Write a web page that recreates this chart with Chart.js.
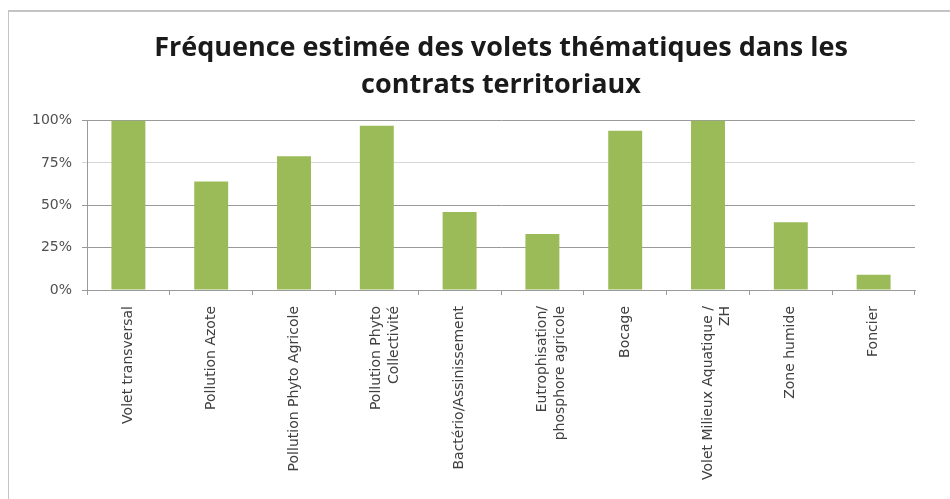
<!DOCTYPE html>
<html>
<head>
<meta charset="utf-8">
<script src="https://cdn.jsdelivr.net/npm/chart.js@4.4.1/dist/chart.umd.min.js"></script>
<style>
  html, body { margin: 0; padding: 0; background: #ffffff; }
  #wrap { position: relative; width: 950px; height: 499px; overflow: hidden; }
  #frame { position: absolute; left: 8px; top: 10px; width: 960px; height: 520px;
           border-top: 2px solid #c4c4c4; border-left: 1px solid #c4c4c4; box-sizing: border-box; }
  canvas { position: absolute; left: 0; top: 0; }
</style>
</head>
<body>
<div id="wrap">
  <div id="frame"></div>
  <canvas id="c" width="950" height="499"></canvas>
</div>
<script>
const titleLines = ["Fréquence estimée des volets thématiques dans les", "contrats territoriaux"];
const categories = [
  "Volet transversal",
  "Pollution Azote",
  "Pollution Phyto Agricole",
  ["Pollution Phyto", "Collectivité"],
  "Bactério/Assinissement",
  ["Eutrophisation/", "phosphore agricole"],
  "Bocage",
  ["Volet Milieux Aquatique /", "ZH"],
  "Zone humide",
  "Foncier"
];
const frequencies = [100, 64, 79, 97, 46, 33, 94, 100, 40, 9];
const yTicks = [0, 25, 50, 75, 100];

new Chart(document.getElementById('c'), {
  type: 'bar',
  data: {
    labels: categories,
    datasets: [{
      data: frequencies,
      backgroundColor: '#9bbb59',
      borderWidth: 0,
      categoryPercentage: 1.0,
      barPercentage: 0.41
    }]
  },
  options: {
    responsive: false,
    animation: false,
    layout: { padding: { left: 0, right: 35, top: 0, bottom: 0 } },
    plugins: {
      legend: { display: false },
      tooltip: { enabled: false },
      title: {
        display: true,
        fullSize: false,
        text: titleLines,
        color: '#1a1a1a',
        font: { family: 'Open Sans', size: 27, weight: 'bold', lineHeight: 1.4 },
        padding: { top: 29, bottom: 16 }
      }
    },
    scales: {
      x: {
        grid: { display: true, offset: true, drawOnChartArea: false, drawTicks: true, tickLength: 5, color: '#9a9a9a' },
        border: { display: true, color: '#9a9a9a', width: 1 },
        ticks: {
          autoSkip: false, minRotation: 90, maxRotation: 90, padding: 11,
          color: '#404040',
          font: { family: 'DejaVu Sans', size: 14, lineHeight: 1.25 }
        },
        afterFit: (s) => { s.height = 209; }
      },
      y: {
        min: 0, max: 100,
        afterBuildTicks: (s) => { s.ticks = yTicks.map(v => ({ value: v })); },
        grid: {
          drawTicks: true, tickLength: 5,
          color: (ctx) => (ctx.tick && ctx.tick.value === 75) ? '#d6d6d6' : '#9a9a9a'
        },
        border: { display: true, color: '#9a9a9a', width: 1 },
        ticks: {
          padding: 10,
          color: '#505050',
          font: { family: 'DejaVu Sans', size: 14 },
          callback: (v) => v + '%'
        },
        afterFit: (s) => { s.width = 87; }
      }
    }
  }
});
</script>
</body>
</html>
